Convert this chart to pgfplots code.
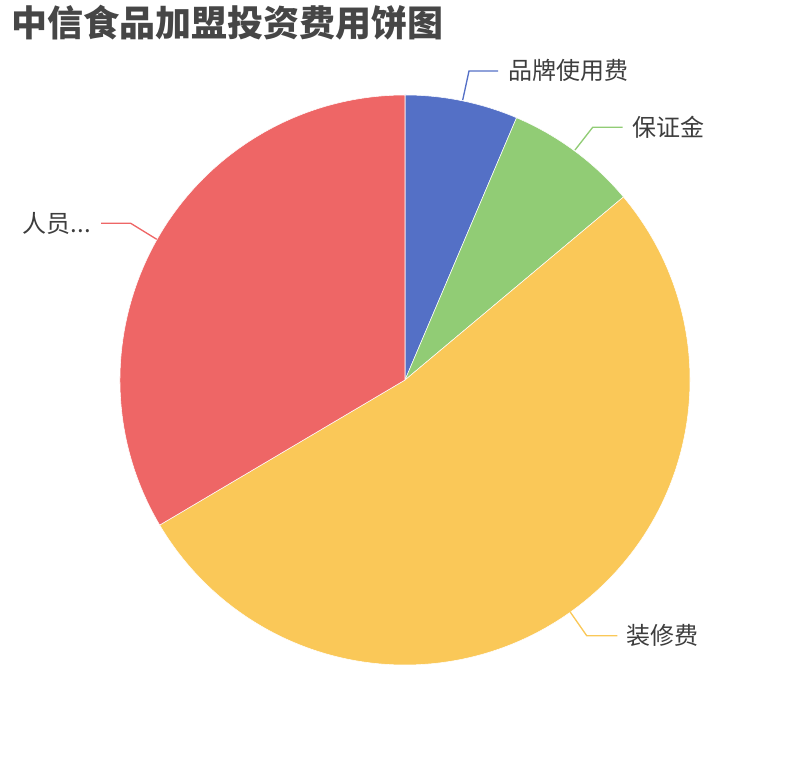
\documentclass[border=0pt]{standalone}
\usepackage{fontspec}
\setmainfont{Noto Sans CJK SC}
\usepackage{pgfplots}
\usepackage{pgfplotstable}
\pgfplotsset{compat=1.18}

\definecolor{cblue}{HTML}{5470C6}
\definecolor{cgreen}{HTML}{91CC75}
\definecolor{cyellow}{HTML}{FAC858}
\definecolor{cred}{HTML}{EE6666}
\definecolor{titlegray}{HTML}{464646}
\definecolor{labelgray}{HTML}{3D3D3D}

% share of each slice, clockwise from 12 o'clock
\pgfplotstableread{
value colour
6.4   cblue
7.5   cgreen
52.6  cyellow
33.5  cred
}\piedata

\begin{document}
\begin{tikzpicture}
\begin{axis}[
   hide axis,
   scale only axis,
   width=607.5pt, height=570pt,
   xmin=-405, xmax=405,
   ymin=-380, ymax=380,
   clip=false,
 ]
 \def\acc{90}
 \pgfplotsforeachungrouped \i in {0,...,3}{
   \pgfplotstablegetelem{\i}{value}\of\piedata \let\v\pgfplotsretval
   \pgfplotstablegetelem{\i}{colour}\of\piedata \let\c\pgfplotsretval
   \pgfmathsetmacro{\aend}{\acc-3.6*\v}
   \edef\temp{\noexpand\fill[\c, draw=white, line width=0.4pt]
     (axis cs:0,0) -- ([shift={(\acc:213.75pt)}]axis cs:0,0)
     arc[start angle=\acc, end angle=\aend, radius=213.75pt] -- cycle;}
   \temp
   \global\let\acc\aend
 }
 % leader lines
 \draw[cblue, line width=1pt] (axis cs:57.7,280) -- (axis cs:64,309) -- (axis cs:93,309);
 \draw[cgreen, line width=1pt] (axis cs:170,230) -- (axis cs:187.7,252.7) -- (axis cs:217.7,252.7);
 \draw[cyellow, line width=1pt] (axis cs:165,-231.7) -- (axis cs:181.7,-255.7) -- (axis cs:212.3,-255.7);
 \draw[cred, line width=1pt] (axis cs:-248.3,140.7) -- (axis cs:-274.3,156.7) -- (axis cs:-304,156.7);
 % labels
 \begin{scope}[every node/.style={inner sep=0pt, text=labelgray, font=\fontsize{18pt}{20pt}\selectfont}]
 \node[anchor=west] at (axis cs:103,309.3) {品牌使用费};
 \node[anchor=west] at (axis cs:227,253) {保证金};
 \node[anchor=west] at (axis cs:221.5,-255.7) {装修费};
 \node[anchor=east] at (axis cs:-314,157) {人员...};
 \end{scope}
 \node[anchor=west, inner sep=0pt, text=titlegray, font=\fontsize{27pt}{30pt}\selectfont\bfseries]
   at (axis cs:-394,357) {中信食品加盟投资费用饼图};
\end{axis}
\pgfresetboundingbox
\path (0,0) rectangle (607.5pt,570pt);
\end{tikzpicture}
\end{document}
